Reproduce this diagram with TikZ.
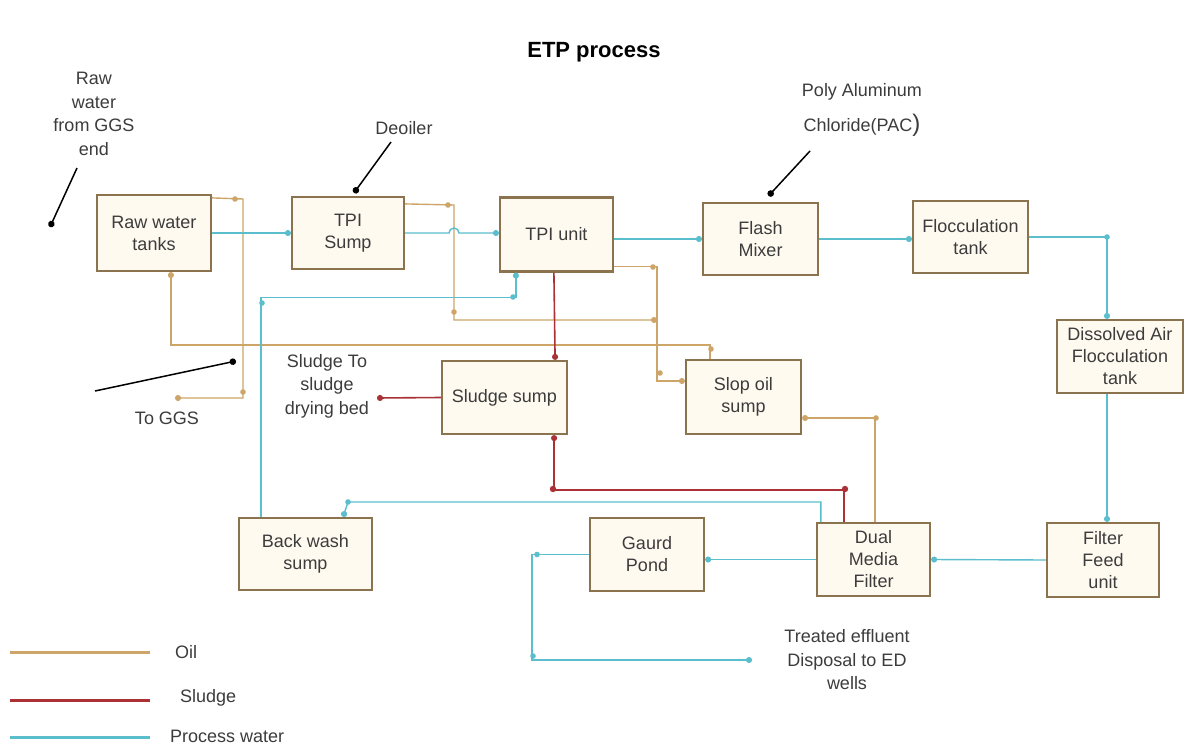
\documentclass[tikz,border=0pt]{standalone}
\usepackage{fontspec}
\setmainfont{Liberation Sans}
\usetikzlibrary{arrows.meta,calc}
\definecolor{oilc}{RGB}{205,165,105}
\definecolor{sludgec}{RGB}{170,50,55}
\definecolor{waterc}{RGB}{90,190,205}
\definecolor{boxc}{RGB}{140,115,80}
\definecolor{boxf}{RGB}{255,250,240}
\definecolor{txtc}{RGB}{60,60,60}
\begin{document}
\begin{tikzpicture}[x=1pt,y=-1pt,
  box/.style={draw=boxc,fill=boxf,line width=2.2pt,inner sep=0pt,align=center,text=txtc,
    font=\fontsize{18}{22}\selectfont},
  lbl/.style={inner sep=0pt,align=center,text=txtc,font=\fontsize{18}{23.5}\selectfont},
  water/.style={draw=waterc,line width=1.4pt},
  oil/.style={draw=oilc,line width=1.4pt},
  sludge/.style={draw=sludgec,line width=1.6pt},
  endtip/.style={-{Circle[length=6pt]}},
  ptr/.style={draw=black,line width=1.5pt,-{Circle[length=6.5pt]}}]
\useasboundingbox[fill=white] (0,0) rectangle (1187,755);

% title
\node[font=\bfseries\fontsize{22}{26}\selectfont] (title) at (594,52) {ETP process};

% boxes
\node[box,minimum width=114pt,minimum height=76pt] (raw) at (154,233) {Raw water\\tanks};
\node[box,minimum width=112pt,minimum height=72pt] (tpis) at (348,233) {TPI\\Sump};
\node[box,minimum width=113pt,minimum height=74pt] (tpiu) at (556.5,234.5) {TPI unit};
\node[box,minimum width=115pt,minimum height=72pt] (flash) at (760.5,239) {Flash\\Mixer};
\node[box,minimum width=115pt,minimum height=72pt] (floc) at (970.5,237) {Flocculation\\tank};
\node[box,minimum width=126pt,minimum height=73pt] (daf) at (1120,356.5) {Dissolved Air\\Flocculation\\tank};
\node[box,minimum width=112pt,minimum height=74pt] (ffu) at (1103,560) {Filter\\Feed\\unit};
\node[box,minimum width=113pt,minimum height=73pt] (dmf) at (873.5,559.5) {Dual\\Media\\Filter};
\node[box,minimum width=114pt,minimum height=73pt] (gp) at (647,554.5) {Gaurd\\Pond};
\node[box,minimum width=133pt,minimum height=72pt] (bws) at (305.5,554) {Back wash\\sump};
\node[box,minimum width=125pt,minimum height=73pt] (ss) at (504.5,397.5) {Sludge sump};
\node[box,minimum width=115pt,minimum height=74pt] (so) at (743.5,397) {Slop oil\\sump};

% labels
\node[lbl] (rawlbl) at (94,114) {Raw\\water\\from GGS\\end};
\node[lbl] (deo) at (404,128) {Deoiler};
\node[lbl] (pac) at (862,110) {Poly Aluminum\\[12pt]Chloride(PAC{\fontsize{24}{24}\selectfont)}};
\node[lbl] (toggs) at (167,418) {To GGS};
\node[lbl] (sdbl) at (327,386) {Sludge To\\sludge\\drying bed};
\node[lbl] (tel) at (847,660) {Treated effluent\\Disposal to ED\\wells};

% free ends
\coordinate (rawin) at (50,227);
\coordinate (ggs) at (175,398);
\coordinate (drybed) at (377,398);
\coordinate (ed) at (752,660);
\coordinate (oilmark) at (236,361);

% pointers
\draw[ptr] (77,168) -- (rawin);
\draw[ptr] (391,142) -- ($(tpis.north)+(6,-3)$);
\draw[ptr] (810,151) -- ($(flash.north)+(8,-6)$);
\draw[ptr] (95,391) -- (oilmark);

% helper coordinates
\coordinate (dafout) at ($(daf.south)+(-13,0)$);
\coordinate (dafin) at ($(daf.north)+(-13,0)$);
\coordinate (dmfbw) at ($(dmf.north west)+(5,0)$);
\coordinate (bwin) at ($(bws.north east)+(-30,0)$);
\coordinate (bwout) at ($(bws.north west)+(23,0)$);
\coordinate (tpiuin) at ($(tpiu.south west)+(17,0)$);
\coordinate (rawoil) at ($(raw.north east)+(0,4)$);
\coordinate (sotop) at ($(so.north west)+(25,0)$);
\coordinate (rawbot) at ($(raw.south west)+(75,0)$);
\coordinate (tpisoil) at ($(tpis.north east)+(0,8)$);
\coordinate (tpiuoil) at ($(tpiu.south east)+(0,-6)$);
\coordinate (soin) at ($(so.west)+(0,-16)$);
\coordinate (dmfoil) at ($(dmf.north west)+(59,0)$);
\coordinate (soout) at ($(so.east)+(0,21)$);
\coordinate (tpiusl) at ($(tpiu.south west)+(55,0)$);
\coordinate (ssin) at ($(ss.north east)+(-13,0)$);
\coordinate (dmfsl) at ($(dmf.north west)+(28,0)$);
\coordinate (ssbot) at ($(ss.south east)+(-14,0)$);

% oil connectors
\draw[oil,endtip] (rawoil) -- (243,199) |- (ggs);
\draw[oil,endtip] (sotop) -- ++(0,-14) -| (rawbot);
\draw[oil,endtip] (tpisoil) -- (454,205) |- (657,320);
\draw[oil,endtip] (tpiuoil) -| (657,381) -- (soin);
\draw[oil,endtip] (dmfoil) |- (soout);
\foreach \p in {(235,199),(243,392),(448,205),(454,312),(653,267),(660,373),(876,418),(711,349)}
  \fill[oilc] \p circle (2.8);

% process water connectors
\draw[water,endtip] (raw.east) -- (tpis.west);
\draw[water,endtip] (tpis.east) -- (449,233) arc[start angle=180,end angle=360,radius=5] -- (tpiu.west |- tpis.east);
\draw[water,endtip] (tpiu.east |- flash.west) -- (flash.west);
\draw[water,endtip] (flash.east) -- (floc.west |- flash.east);
\draw[water,endtip] (floc.east) -| (dafin);
\draw[water,endtip] (dafout) -- (dafout |- ffu.north);
\draw[water,endtip] (ffu.west) -- (dmf.east);
\draw[water,endtip] (dmf.west) -- (gp.east |- dmf.west);
\draw[water,endtip] (gp.west) -- ++(-57,0) |- (ed);
\draw[water,endtip] (dmfbw) |- (348,502) -- (bwin);
\draw[water,endtip] (bwout) |- ($(tpiuin)+(0,25)$) -- (tpiuin);
\foreach \p in {(1107,237),(262,303),(537,554.5),(533,656),(348,502),(513,297)}
  \fill[waterc] \p circle (2.8);

% sludge connectors
\draw[sludge,endtip] (tpiusl) -- (ssin);
\draw[sludge,endtip] (ss.west) -- (drybed);
\draw[sludge,endtip] (dmfsl) |- ($(ssbot)+(0,55)$) -- (ssbot);
\foreach \p in {(845,489),(553,489)}
  \fill[sludgec] \p circle (3.2);

% legend
\draw[oilc,line width=3pt] (10,652) -- (150,652);
\draw[sludgec,line width=3pt] (10,700) -- (150,700);
\draw[waterc,line width=3pt] (10,737) -- (150,737);
\node[lbl,anchor=west] (lo) at (175,652) {Oil};
\node[lbl,anchor=west] (ls) at (180,698) {Sludge};
\node[lbl,anchor=west] (lw) at (170,736) {Process water};
\end{tikzpicture}
\end{document}
